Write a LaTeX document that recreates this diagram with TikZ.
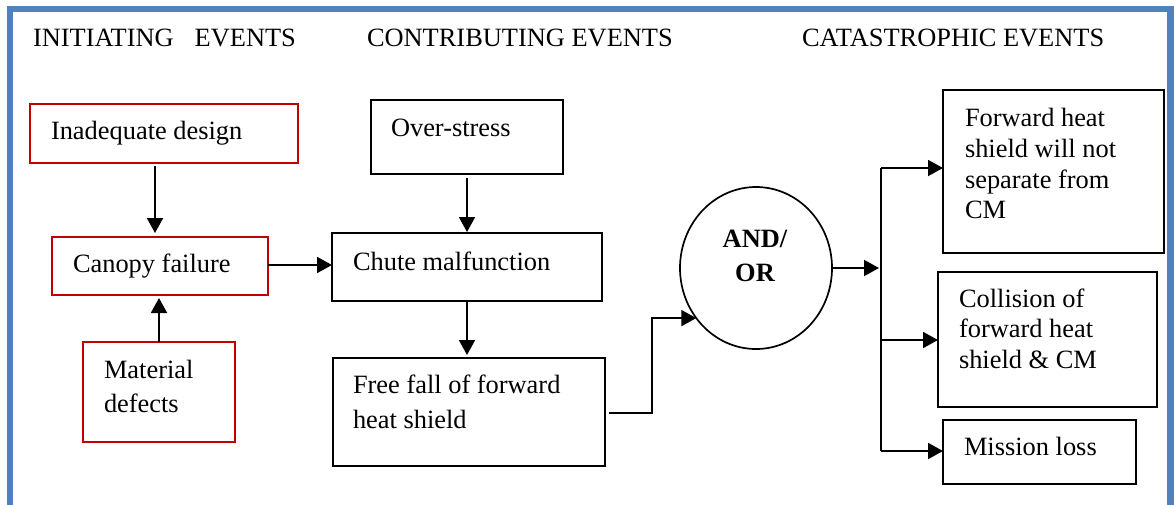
\documentclass[tikz,border=0pt]{standalone}
\usepackage{fontspec}
\setmainfont{Liberation Serif}
\usetikzlibrary{arrows.meta,shapes.geometric}
\definecolor{frameblue}{HTML}{4F81BD}
\definecolor{causered}{HTML}{C00000}
\begin{document}
\begin{tikzpicture}[x=1pt,y=-1pt,
  every node/.style={inner sep=0pt, outer sep=0pt},
  box/.style={draw=black, line width=1.7pt, anchor=north west},
  redbox/.style={box, draw=causered},
  txt/.style={anchor=base west, font=\fontsize{26.4}{30}\selectfont},
  gatetxt/.style={anchor=base, font=\fontsize{26.4}{30}\selectfont\bfseries},
  arr/.style={line width=1.9pt, -{Triangle[length=15pt,width=16pt]}},
  link/.style={line width=1.9pt},
]
\useasboundingbox (0,0) rectangle (1174,504);
\clip (0,0) rectangle (1174,504);

% outer frame
\draw[frameblue, line width=6.5pt] (10,9) rectangle (1170.5,530);

% column headings
\node[txt] (headInit) at (33,46.5) {INITIATING\hspace{21pt}EVENTS};
\node[txt] (headContr) at (367,46.5) {CONTRIBUTING EVENTS};
\node[txt] (headCat) at (802,46.5) {CATASTROPHIC EVENTS};

% initiating events
\node[redbox, minimum width=268pt, minimum height=59pt] (design) at (30,104) {};
\node[txt] (designT) at (51,139.5) {Inadequate design};
\node[redbox, minimum width=216pt, minimum height=58pt] (canopy) at (52,237) {};
\node[txt] (canopyT) at (73,272.5) {Canopy failure};
\node[redbox, minimum width=152pt, minimum height=100pt] (material) at (83,342) {};
\node[txt] (materialT1) at (104,378) {Material};
\node[txt] (materialT2) at (104,412.5) {defects};

% contributing events
\node[box, minimum width=192pt, minimum height=74pt] (over) at (371,100) {};
\node[txt] (overT) at (391,136.5) {Over-stress};
\node[box, minimum width=270pt, minimum height=68pt] (chute) at (332,233) {};
\node[txt] (chuteT) at (353,270) {Chute malfunction};
\node[box, minimum width=272pt, minimum height=108pt] (free) at (333,358) {};
\node[txt] (freeT1) at (353,393.5) {Free fall of forward};
\node[txt] (freeT2) at (353,428.5) {heat shield};

% gate
\node[ellipse, draw, line width=1.7pt, minimum width=152pt, minimum height=162pt] (gate) at (756,268) {};
\node[gatetxt] (gateT1) at (755,247.5) {AND/};
\node[gatetxt] (gateT2) at (755,281.5) {OR};

% catastrophic events
\node[box, minimum width=221pt, minimum height=163pt] (fwd) at (943,90) {};
\node[txt] (fwdT1) at (965,126.5) {Forward heat};
\node[txt] (fwdT2) at (965,157) {shield will not};
\node[txt] (fwdT3) at (965,188) {separate from};
\node[txt] (fwdT4) at (965,218.5) {CM};
\node[box, minimum width=219pt, minimum height=135pt] (coll) at (938,272) {};
\node[txt] (collT1) at (959,307) {Collision of};
\node[txt] (collT2) at (959,337.5) {forward heat};
\node[txt] (collT3) at (959,368) {shield \& CM};
\node[box, minimum width=193pt, minimum height=64pt] (miss) at (943,420) {};
\node[txt] (missT) at (964,455) {Mission loss};

% connectors
\draw[arr, shorten <=3pt, shorten >=4pt] ([xshift=-9pt]design.south) -- ([xshift=-5pt]canopy.north);
\draw[arr, shorten >=3pt] (material.north) -- (material.north |- canopy.south);
\draw[arr] ([yshift=1pt]canopy.east) -- ([yshift=1pt]canopy.east -| chute.west);
\draw[arr, shorten <=4pt, shorten >=1pt] (over.south) -- (over.south |- chute.north);
\draw[arr, shorten >=3pt] (chute.south) -- (chute.south |- free.north);
\draw[arr, shorten <=4pt] ([yshift=-1pt]free.east) -- ++(47,0) |- (gate.220);

\coordinate (jTop) at (881,168);
\coordinate (jMid) at (881,340);
\coordinate (jBot) at (881,451);
\coordinate (jIn) at (881,268);
\draw[arr, shorten <=1pt, shorten >=2pt] (gate.east) -- (jIn);
\draw[link] (jTop) -- (jBot);
\draw[arr] (jTop) -- (jTop -| fwd.west);
\draw[arr] (jMid) -- (jMid -| coll.west);
\draw[arr] (jBot) -- (jBot -| miss.west);
\end{tikzpicture}
\end{document}
